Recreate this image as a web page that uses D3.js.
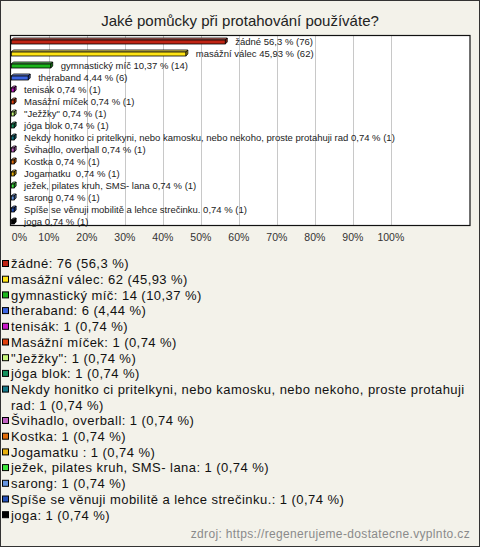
<!DOCTYPE html>
<html><head><meta charset="utf-8">
<script src="https://cdn.jsdelivr.net/npm/d3@7"></script>
<style>
html,body{margin:0;padding:0;background:#fff;}
svg{display:block;}
text{font-family:"Liberation Sans",Arial,sans-serif;}
</style></head>
<body>
<svg id="c" width="480" height="547"></svg>
<script>
const title = "Jaké pomůcky při protahování používáte?";
const categories = ["žádné","masážní válec","gymnastický míč","theraband","tenisák","Masážní míček","\"Ježžky\"","jóga blok","Nekdy honitko ci pritelkyni, nebo kamosku, nebo nekoho, proste protahuji rad","Švihadlo, overball","Kostka","Jogamatku ","ježek, pilates kruh, SMS- lana","sarong","Spíše se věnuji mobilitě a lehce strečinku.","joga"];
const counts = [76,62,14,6,1,1,1,1,1,1,1,1,1,1,1,1];
const percents = [56.3,45.93,10.37,4.44,0.74,0.74,0.74,0.74,0.74,0.74,0.74,0.74,0.74,0.74,0.74,0.74];
const colors = ["#c02414","#ffe414","#1cb41c","#3c64e0","#c818c8","#e0400c","#c8f87c","#14905c","#147888","#c060c0","#e06c0c","#e8b00c","#3ce83c","#6494e0","#2450b8","#000000"];
const tickValues = [0,10,20,30,40,50,60,70,80,90,100];
const source = "zdroj: https://regenerujeme-dostatecne.vyplnto.cz";

const fmt = v => String(v).replace(".", ",");
const svg = d3.select("#c");

svg.append("rect").attr("x",0.5).attr("y",0.5).attr("width",479).attr("height",546)
  .attr("fill","#f3f2ea").attr("stroke","#333").attr("stroke-width",1);

svg.append("text").attr("x",240).attr("y",26).attr("text-anchor","middle")
  .attr("font-size",15).attr("fill","#222").text(title);

const x = d3.scaleLinear().domain([0,100]).range([11.3,391.3]);
const y = d3.scaleBand().domain(categories).range([35.5,227.5]).padding(0);

// plot box
svg.append("rect").attr("x",10.5).attr("y",35.5).attr("width",459.5).attr("height",190)
  .attr("fill","#fff");
// grid
svg.append("g").selectAll("line").data(tickValues.filter(d=>d>0)).join("line")
  .attr("x1",d=>Math.round(x(d))+0.5).attr("x2",d=>Math.round(x(d))+0.5)
  .attr("y1",36).attr("y2",225).attr("stroke","#c8c8c8").attr("stroke-width",1);
svg.append("rect").attr("x",10.5).attr("y",35.5).attr("width",459.5).attr("height",190)
  .attr("fill","none").attr("stroke","#111").attr("stroke-width",1.2);

// bars (3D)
const d = 2;
const data = categories.map((c,i)=>({c, n:counts[i], p:percents[i], col:colors[i]}));
const bars = svg.append("g").selectAll("g").data(data).join("g");
bars.each(function(o){
  const g = d3.select(this);
  const x0 = x(0), x1 = x(o.p);
  const cy = y(o.c) + y.bandwidth()/2;
  const top = cy - 1.5, h = 4;
  const c = d3.color(o.col);
  const light = d3.interpolateRgb(o.col, "#fff")(0.35);
  const dark = c.darker(0.8);
  g.append("path").attr("d",`M${x0},${top}L${x0+d},${top-d}L${x1+d},${top-d}L${x1},${top}Z`)
    .attr("fill",light).attr("stroke","#000").attr("stroke-width",0.8).attr("stroke-linejoin","round");
  g.append("path").attr("d",`M${x1},${top}L${x1+d},${top-d}L${x1+d},${top+h-d}L${x1},${top+h}Z`)
    .attr("fill",dark).attr("stroke","#000").attr("stroke-width",0.8).attr("stroke-linejoin","round");
  g.append("rect").attr("x",x0).attr("y",top).attr("width",x1-x0).attr("height",h)
    .attr("fill",o.col).attr("stroke","#000").attr("stroke-width",0.8);
  g.append("text").attr("x",x1+10).attr("y",cy+3.3).attr("font-size",9.5).attr("fill","#222")
    .style("white-space","pre").text(o.c + " " + fmt(o.p) + " % (" + o.n + ")");
});

// axis
const axis = d3.axisBottom(x).tickValues(tickValues).tickFormat(v=>v+"%").tickSize(0).tickPadding(0);
const ax = svg.append("g").attr("transform","translate(0,235)").call(axis);
ax.select(".domain").remove();
ax.selectAll("text").attr("font-size",10.5).attr("fill","#333").attr("dy","0.6em")
  .attr("font-family","Liberation Sans, Arial, sans-serif")
  .attr("text-anchor",(v)=>v===0?"start":"middle")
  .attr("dx",(v)=>v===0?"0":"-1");

// legend
const lg = svg.append("g");
let line = 0;
const step = 15.7;
data.forEach((o,i)=>{
  const sqTop = 260 + step*line;
  lg.append("rect").attr("x",2.5).attr("y",sqTop+0.5).attr("width",6).attr("height",6)
    .attr("fill",o.col).attr("stroke","#000").attr("stroke-width",1);
  const label = o.c + ": " + o.n + " (" + fmt(o.p) + " %)";
  let lines = [label];
  if (i === 8) {
    lines = ["Nekdy honitko ci pritelkyni, nebo kamosku, nebo nekoho, proste protahuji", "rad: " + o.n + " (" + fmt(o.p) + " %)"];
  }
  lines.forEach((t,k)=>{
    lg.append("text").attr("x",11).attr("y",sqTop+8.3+step*k).attr("font-size",13)
      .attr("letter-spacing",0.45).attr("fill","#111").style("white-space","pre").text(t);
  });
  line += lines.length;
});

svg.append("text").attr("x",470).attr("y",538).attr("text-anchor","end")
  .attr("font-size",12).attr("letter-spacing",0.35).attr("fill","#8a8a8a").text(source);
</script>
</body></html>
